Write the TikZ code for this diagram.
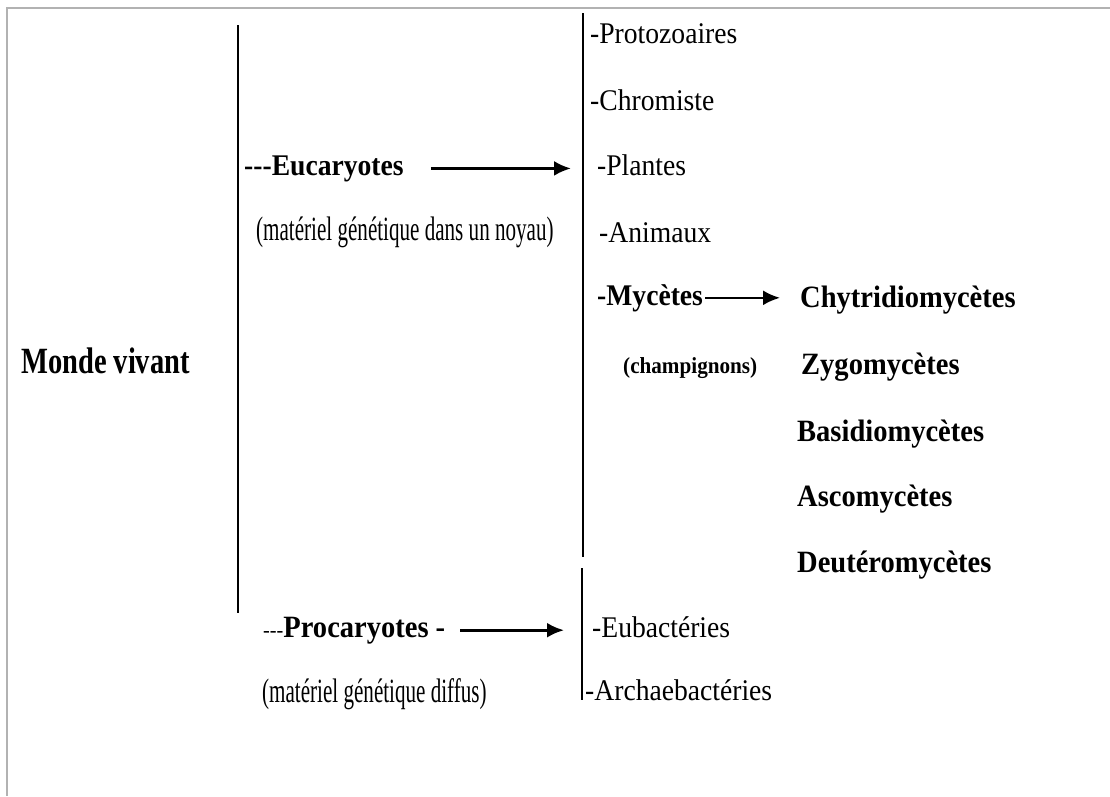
\documentclass[tikz,border=0pt]{standalone}
\usepackage{fontspec}
\setmainfont{Liberation Serif}
\newfontfamily\listfont{Liberation Serif}[FakeStretch=0.92]
\newfontfamily\notefont{Liberation Serif}[FakeStretch=0.62]
\newfontfamily\titlefont{Liberation Serif}[FakeStretch=0.77]
\usetikzlibrary{arrows.meta}

\tikzstyle{item} = [anchor=base west, inner sep=0pt, font=\listfont\fontsize{30}{36}\selectfont]
\tikzstyle{group} = [item, font=\listfont\bfseries\fontsize{30}{36}\selectfont]
\tikzstyle{fungus} = [item, font=\listfont\bfseries\fontsize{31}{36}\selectfont]
\tikzstyle{note} = [anchor=base west, inner sep=0pt, font=\notefont\fontsize{34}{40}\selectfont]
\tikzstyle{title} = [anchor=base west, inner sep=0pt, font=\titlefont\bfseries\fontsize{37}{44}\selectfont]
\tikzstyle{bar} = [draw, line width=1.8pt]
\tikzstyle{frame} = [draw, gray!60, line width=2pt]
\tikzstyle{line} = [draw, -{Latex[length=17pt,width=15pt]}, line width=2.8pt]

\begin{document}
\begin{tikzpicture}[x=1pt, y=-1pt]
\useasboundingbox (0,0) rectangle (1110,796);
\draw [frame] (1110,8) -- (7,8) -- (7,796);

\node (Monde) [title] at (21,373) {Monde vivant};
\draw [bar] (238,25) -- (238,613);

%Eucaryotes
\node (Euk) [group] at (244,175) {-{}-{}-Eucaryotes};
\node (EukNote) [note] at (256,240) {(matériel génétique dans un noyau)};
\draw [bar] (583,13) -- (583,557);

\node (Protozoaires) [item] at (590,43) {-Protozoaires};
\node (Chromiste) [item] at (590,110) {-Chromiste};
\node (Plantes) [item] at (597,175) {-Plantes};
\node (Animaux) [item] at (599,242) {-Animaux};
\node (Mycetes) [group] at (597,305) {-Mycètes};
\node (Champignons) [item, font=\listfont\bfseries\fontsize{23}{28}\selectfont] at (623,373) {(champignons)};

%Mycetes
\node (Chytrid) [fungus] at (800,307) {Chytridiomycètes};
\node (Zygo) [fungus] at (801,374) {Zygomycètes};
\node (Basidio) [fungus] at (797,441) {Basidiomycètes};
\node (Asco) [fungus] at (797,506) {Ascomycètes};
\node (Deutero) [fungus] at (797,572) {Deutéromycètes};

%Procaryotes
\node (Prok) [group, font=\listfont\fontsize{31}{36}\selectfont] at (263,637) {{\fontsize{22}{26}\selectfont -{}-{}-}\textbf{Procaryotes -}};
\node (ProkNote) [note] at (262,702) {(matériel génétique diffus)};
\draw [bar] (582,568) -- (582,700);

\node (Eubacteries) [item] at (592,637) {-Eubactéries};
\node (Archae) [item] at (585,700) {-Archaebactéries};

\path [line, shorten <=27pt, shorten >=26pt] (Euk.east) -- (Euk.east -| Plantes.west);
\path [line, shorten <=15pt, shorten >=28pt] (Prok.east) -- (Prok.east -| Eubacteries.west);
\path [line, line width=2.4pt, shorten <=2pt, shorten >=20pt] (Mycetes.east) -- (Mycetes.east -| Chytrid.west);

\end{tikzpicture}
\end{document}
